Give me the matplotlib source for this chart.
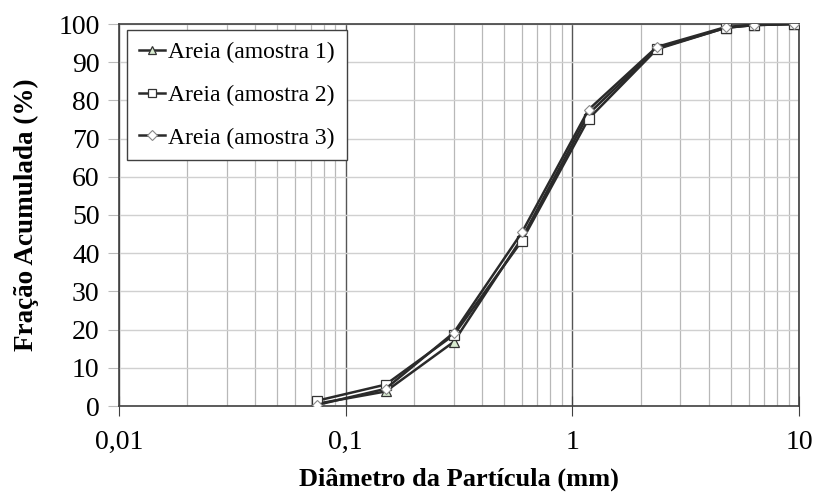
import matplotlib
matplotlib.use("Agg")
import matplotlib.pyplot as plt
from matplotlib.ticker import LogLocator, FixedLocator, FuncFormatter

diametro = [0.075, 0.15, 0.3, 0.6, 1.18, 2.36, 4.75, 6.3, 9.5]
amostra1 = [0.6, 3.8, 16.8, 44.0, 76.5, 93.6, 99.0, 99.7, 100.0]
amostra2 = [1.4, 5.6, 18.6, 43.3, 75.2, 93.4, 99.0, 99.7, 100.0]
amostra3 = [0.3, 4.5, 19.2, 45.5, 77.6, 94.0, 99.2, 99.8, 100.0]

plt.rcParams['font.family'] = ['Liberation Serif', 'DejaVu Serif']

fig = plt.figure(figsize=(8.14, 4.97), dpi=100, facecolor="#FFFFFF")
ax = fig.add_axes([119/814, 1 - 406/497, 680/814, 382/497])

ax.plot(diametro, amostra1, color="#2a2a2a", lw=1.8, marker="^", ms=7,
        mfc="#d8ebd0", mec="#333333", mew=0.9, label="Areia (amostra 1)", zorder=3)
ax.plot(diametro, amostra2, color="#2a2a2a", lw=1.8, marker="s", ms=7,
        mfc="#ffffff", mec="#333333", mew=0.9, label="Areia (amostra 2)", zorder=4)
ax.plot(diametro, amostra3, color="#2a2a2a", lw=1.8, marker="D", ms=5.5,
        mfc="#ffffff", mec="#888888", mew=0.8, label="Areia (amostra 3)", zorder=5)

ax.set_xscale("log")
ax.set_xlim(0.01, 10)
ax.set_ylim(0, 100)
ax.yaxis.set_major_locator(FixedLocator(range(0, 101, 10)))
ax.xaxis.set_major_locator(LogLocator(base=10))
ax.xaxis.set_minor_locator(LogLocator(base=10, subs=range(2, 10)))
ax.xaxis.set_major_formatter(FuncFormatter(lambda v, p: ("%g" % v).replace(".", ",")))
ax.xaxis.set_minor_formatter(FuncFormatter(lambda v, p: ""))

ax.grid(axis="y", which="major", color="#d0d0d0", lw=1.0)
ax.grid(axis="x", which="major", color="#555555", lw=1.0)
ax.grid(axis="x", which="minor", color="#b8b8b8", lw=0.9)
ax.set_axisbelow(True)

for s in ax.spines.values():
    s.set_color("#404040")
    s.set_linewidth(1.2)

ax.tick_params(axis="y", which="major", direction="out", length=8, color="#bbbbbb",
               labelsize=20, pad=6)
ax.tick_params(axis="x", which="major", direction="inout", length=14, color="#404040",
               labelsize=20, pad=10)
ax.tick_params(axis="x", which="minor", length=0)

ax.set_xlabel("Diâmetro da Partícula (mm)", fontsize=19, fontweight="bold", labelpad=9)
ax.set_ylabel("Fração Acumulada (%)", fontsize=19.5, fontweight="bold", labelpad=14)

leg = ax.legend(loc="upper left", bbox_to_anchor=(0.012, 0.985), borderaxespad=0,
                fontsize=17, frameon=True, fancybox=False, edgecolor="#404040",
                framealpha=1, handlelength=1.1, handletextpad=0.15, labelspacing=0.9,
                borderpad=0.5, markerscale=0.85)
leg.get_frame().set_linewidth(1.0)

fig.savefig("out.png", dpi=100, facecolor="#FFFFFF")
